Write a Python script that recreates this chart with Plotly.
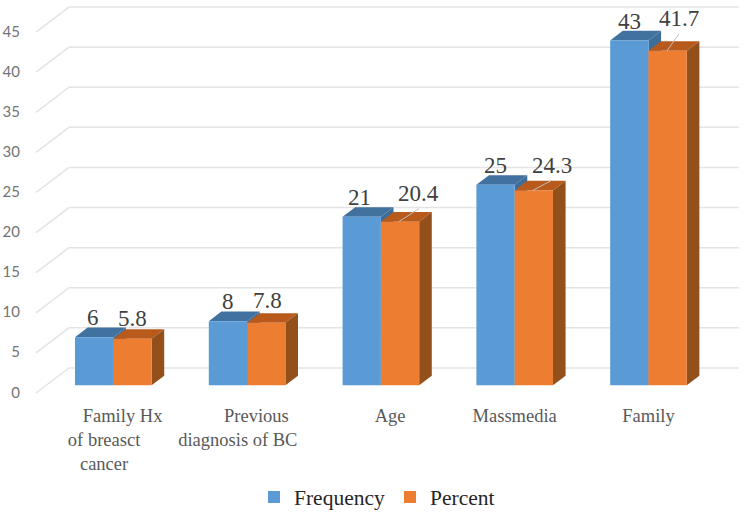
import plotly.graph_objects as go

categories = ["Family Hx", "Previous", "Age", "Massmedia", "Family"]
tick_labels = [
    "\u00a0\u00a0\u00a0\u00a0Family Hx<br>of breasct\u00a0\u00a0\u00a0\u00a0<br>cancer\u00a0\u00a0\u00a0\u00a0",
    "\u00a0\u00a0\u00a0\u00a0Previous<br>diagnosis of BC\u00a0\u00a0\u00a0\u00a0",
    "\u00a0\u00a0\u00a0\u00a0Age",
    "Massmedia",
    "Family",
]
frequency = [6, 8, 21, 25, 43]
percent = [5.8, 7.8, 20.4, 24.3, 41.7]
y_ticks = [0, 5, 10, 15, 20, 25, 30, 35, 40, 45]

PX_X = 133.8   # pixels per category
PX_Y = 8.02    # pixels per value unit
BAR_W = 38.3 / PX_X
DX = 12.6 / PX_X
DY = 9.6 / PX_Y

idx = list(range(len(categories)))


def depth_faces(values, left_offset):
    top_x, top_y, side_x, side_y = [], [], [], []
    for i, v in zip(idx, values):
        xl = i + left_offset
        xr = xl + BAR_W
        top_x += [xl, xr, xr + DX, xl + DX, xl, None]
        top_y += [v, v, v + DY, v + DY, v, None]
        side_x += [xr, xr, xr + DX, xr + DX, xr, None]
        side_y += [0, v, v + DY, DY, 0, None]
    return top_x, top_y, side_x, side_y


def poly(x, y, color):
    return go.Scatter(x=x, y=y, mode="lines", fill="toself", fillcolor=color,
                      line=dict(width=0, color=color), showlegend=False,
                      hoverinfo="skip", xaxis="x", yaxis="y")


fig = go.Figure()
ft = depth_faces(frequency, -BAR_W)
pt = depth_faces(percent, 0)
fig.add_trace(poly(ft[0], ft[1], "#41729F"))
fig.add_trace(poly(ft[2], ft[3], "#3D6E9A"))
fig.add_trace(poly(pt[0], pt[1], "#B85A1C"))
fig.add_trace(poly(pt[2], pt[3], "#94501B"))

fig.add_trace(go.Bar(name="Frequency", x=idx, y=frequency, marker_color="#5B9BD5",
                     marker_line_width=0, yaxis="y2", xaxis="x"))
fig.add_trace(go.Bar(name="Percent", x=idx, y=percent, marker_color="#ED7D31",
                     marker_line_width=0, yaxis="y2", xaxis="x"))

# leader lines for displaced percent labels
leader_index = [2, 3, 4]
leader_start_px = [18, 18, 18.5]
leader_dx_px = [20, 19, 12]
leader_dy_px = [13, 10, 17]
lx, ly = [], []
for i, s, dx, dy in zip(leader_index, leader_start_px, leader_dx_px, leader_dy_px):
    x0 = i + s / PX_X
    lx += [x0, x0 + dx / PX_X, None]
    ly += [percent[i], percent[i] + dy / PX_Y, None]
fig.add_trace(go.Scatter(x=lx, y=ly, mode="lines", line=dict(color="#BFBFBF", width=1),
                         showlegend=False, hoverinfo="skip", xaxis="x", yaxis="y2"))

# back-wall gridlines following the floor/wall perspective
shapes = []
X_FRONT, X_BACK, X_END = -0.578, -0.331, 4.676
Y_FRONT, Y_BACK = -0.96, 2.16
grid = dict(color="#E4E4E4", width=1.5)
for v in y_ticks:
    shapes.append(dict(type="line", xref="x", yref="y", layer="below", line=grid,
                       x0=X_FRONT, x1=X_BACK, y0=v + Y_FRONT, y1=v + Y_BACK))
    shapes.append(dict(type="line", xref="x", yref="y", layer="below", line=grid,
                       x0=X_BACK, x1=X_END, y0=v + Y_BACK, y1=v + Y_BACK))

label_font = dict(family="Liberation Serif", size=23, color="#404040")
freq_xshift = [-1, 0, -2, 0, 0]
freq_yshift = [19.5, 20, 19.5, 19.5, 19]
pct_xshift = [0, 1, 18, 18, 11]
pct_yshift = [20, 22, 28, 25, 32]
annotations = []
for i in idx:
    annotations.append(dict(x=i - BAR_W / 2, y=frequency[i], text=str(frequency[i]),
                            xref="x", yref="y", showarrow=False, font=label_font,
                            xanchor="center", yanchor="middle",
                            xshift=freq_xshift[i], yshift=freq_yshift[i]))
    annotations.append(dict(x=i + BAR_W / 2, y=percent[i], text=str(percent[i]),
                            xref="x", yref="y", showarrow=False, font=label_font,
                            xanchor="center", yanchor="middle",
                            xshift=pct_xshift[i], yshift=pct_yshift[i]))

fig.update_layout(
    width=744, height=512,
    margin=dict(l=30, r=0, t=0, b=116),
    paper_bgcolor="white", plot_bgcolor="white",
    barmode="group", bargap=1 - 2 * BAR_W, bargroupgap=0,
    shapes=shapes, annotations=annotations,
    xaxis=dict(range=[-0.6226, 4.714], tickmode="array", tickvals=idx, ticktext=tick_labels,
               showgrid=False, zeroline=False, showline=False, ticks="",
               ticklabelstandoff=6,
               tickfont=dict(family="Liberation Serif", size=18.5, color="#595959")),
    yaxis=dict(range=[-1.334, 48.04], tickmode="array", tickvals=y_ticks,
               showgrid=False, zeroline=False, showline=False, ticks="",
               ticklabelstandoff=9, ticklabelshift=7,
               tickfont=dict(family="Lato", size=15, color="#737373")),
    yaxis2=dict(range=[-1.334, 48.04], overlaying="y", visible=False),
    legend=dict(orientation="h", xref="container", yref="container",
                x=254 / 744, xanchor="left", y=0.0293, yanchor="middle",
                font=dict(family="Liberation Serif", size=21.5, color="#262626"),
                bgcolor="rgba(0,0,0,0)"),
    hovermode=False,
)
fig.write_html("out.html", config={"displayModeBar": False},
               post_script="document.body.style.margin='0';document.body.style.overflow='hidden';")
